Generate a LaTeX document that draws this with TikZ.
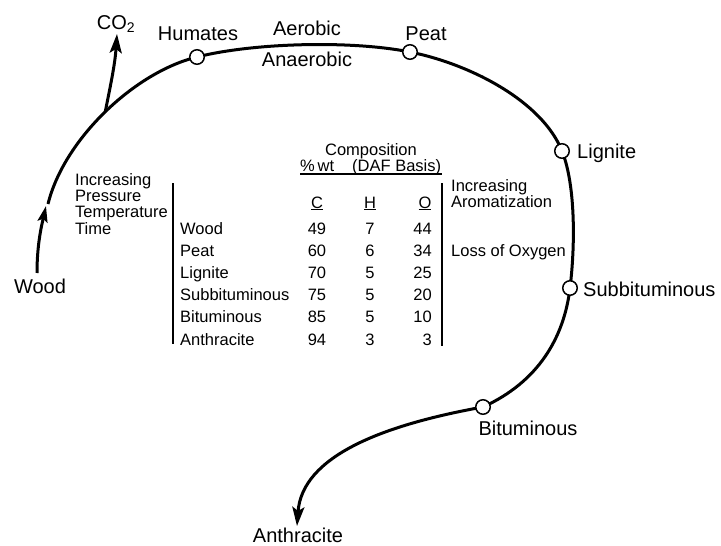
\documentclass[tikz,border=0pt]{standalone}
\usepackage{fontspec}
\setmainfont{Liberation Sans}
\usetikzlibrary{arrows.meta}
\begin{document}
\begin{tikzpicture}[x=1pt,y=-1pt,
  curve/.style={line width=3pt},
  tipend/.style={-{Stealth[length=19pt,width=12pt,inset=4pt]}},
  tipwood/.style={-{Stealth[length=16pt,width=10pt,inset=3pt]}},
  stage/.style={circle,draw,fill=white,line width=1.5pt,minimum size=14.5pt,inner sep=0pt},
  lab/.style={font=\fontsize{20}{24}\selectfont,inner sep=0pt},
  tab/.style={font=\fontsize{16.5}{19}\selectfont,inner sep=0pt},
  rulel/.style={line width=1.4pt}]
\useasboundingbox (0,0) rectangle (721,546);
% path points
\coordinate (w0) at (37,273);
\coordinate (w1) at (46,206);
\coordinate (m0) at (48,204);
\coordinate (hum) at (197,57);
\coordinate (peat) at (410,52);
\coordinate (lig) at (562,151);
\coordinate (sub) at (570,288);
\coordinate (bit) at (483,407);
\coordinate (ant) at (297,526);
\coordinate (co) at (117,34);
% Wood arrow
\draw[curve,tipwood] (w0) .. controls +(0,-30) and +(-4,18) .. (w1);
% main curve
\draw[curve,tipend] (m0) .. controls +(16,-65) and +(-62,15) .. (hum) coordinate[pos=0.5] (split)
  .. controls +(55,-14) and +(-60,-12) .. (peat)
  .. controls +(60,12) and +(-20,-50) .. (lig)
  .. controls +(14,35) and +(5,-40) .. (sub)
  .. controls +(-6,50) and +(55,-25) .. (bit)
  .. controls +(-100,18) and +(5,-70) .. (ant);
% CO2 branch
\draw[curve,tipend] (split) .. controls +(6,-30) and +(-2,30) .. (co);
% stage circles
\node[stage] (nhum) at (hum) {};
\node[stage] (npeat) at (peat) {};
\node[stage] (nlig) at (lig) {};
\node[stage] (nsub) at (sub) {};
\node[stage] (nbit) at (bit) {};
% labels
\node[lab,anchor=base] (lco) at (116,29) {CO\textsubscript{2}};
\node[lab,anchor=base] (lhum) at (198,41) {Humates};
\node[lab,anchor=base] (laer) at (307,35) {Aerobic};
\node[lab,anchor=base] (lana) at (307,66) {Anaerobic};
\node[lab,anchor=base] (lpeat) at (426,40) {Peat};
\node[lab,anchor=base west] (llig) at (577,158) {Lignite};
\node[lab,anchor=base west] (lsub) at (583,296) {Subbituminous};
\node[lab,anchor=base] (lbit) at (528,435) {Bituminous};
\node[lab,anchor=base] (lant) at (298,542) {Anthracite};
\node[lab,anchor=base] (lwood) at (40,293) {Wood};
% table headings
\node[tab,anchor=base west] (ip1) at (75,185) {Increasing};
\node[tab,anchor=base west] (ip2) at (75,201) {Pressure};
\node[tab,anchor=base west] (ip3) at (75,217) {Temperature};
\node[tab,anchor=base west] (ip4) at (75,234) {Time};
\node[tab,anchor=base] (comp) at (371,155) {Composition};
\node[tab,anchor=base west] (pwt) at (300,171) {\%\,wt};
\node[tab,anchor=base west] (daf) at (352,171) {(DAF Basis)};
\draw[rulel] (300,174) -- (442,174);
\node[tab,anchor=base] (hc) at (317,208) {\underline{C}};
\node[tab,anchor=base] (hh) at (370,208) {\underline{H}};
\node[tab,anchor=base] (ho) at (425,208) {\underline{O}};
\draw[rulel] (173,183) -- (173,344);
\draw[rulel] (442,183) -- (442,346);
\node[tab,anchor=base west] (ar1) at (451,191) {Increasing};
\node[tab,anchor=base west] (ar2) at (451,207) {Aromatization};
\node[tab,anchor=base west] (lox) at (451,256) {Loss of Oxygen};
% table rows
\foreach \nm/\c/\h/\o [count=\i] in {Wood/49/7/44, Peat/60/6/34, Lignite/70/5/25, Subbituminous/75/5/20, Bituminous/85/5/10, Anthracite/94/3/3} {
  \pgfmathsetmacro\yy{234+22.2*(\i-1)}
  \node[tab,anchor=base west] (r\i) at (180,\yy) {\nm};
  \node[tab,anchor=base] (c\i) at (317,\yy) {\c};
  \node[tab,anchor=base] (h\i) at (370,\yy) {\h};
  \node[tab,anchor=base east] (o\i) at (432,\yy) {\o};
}
\end{tikzpicture}
\end{document}
